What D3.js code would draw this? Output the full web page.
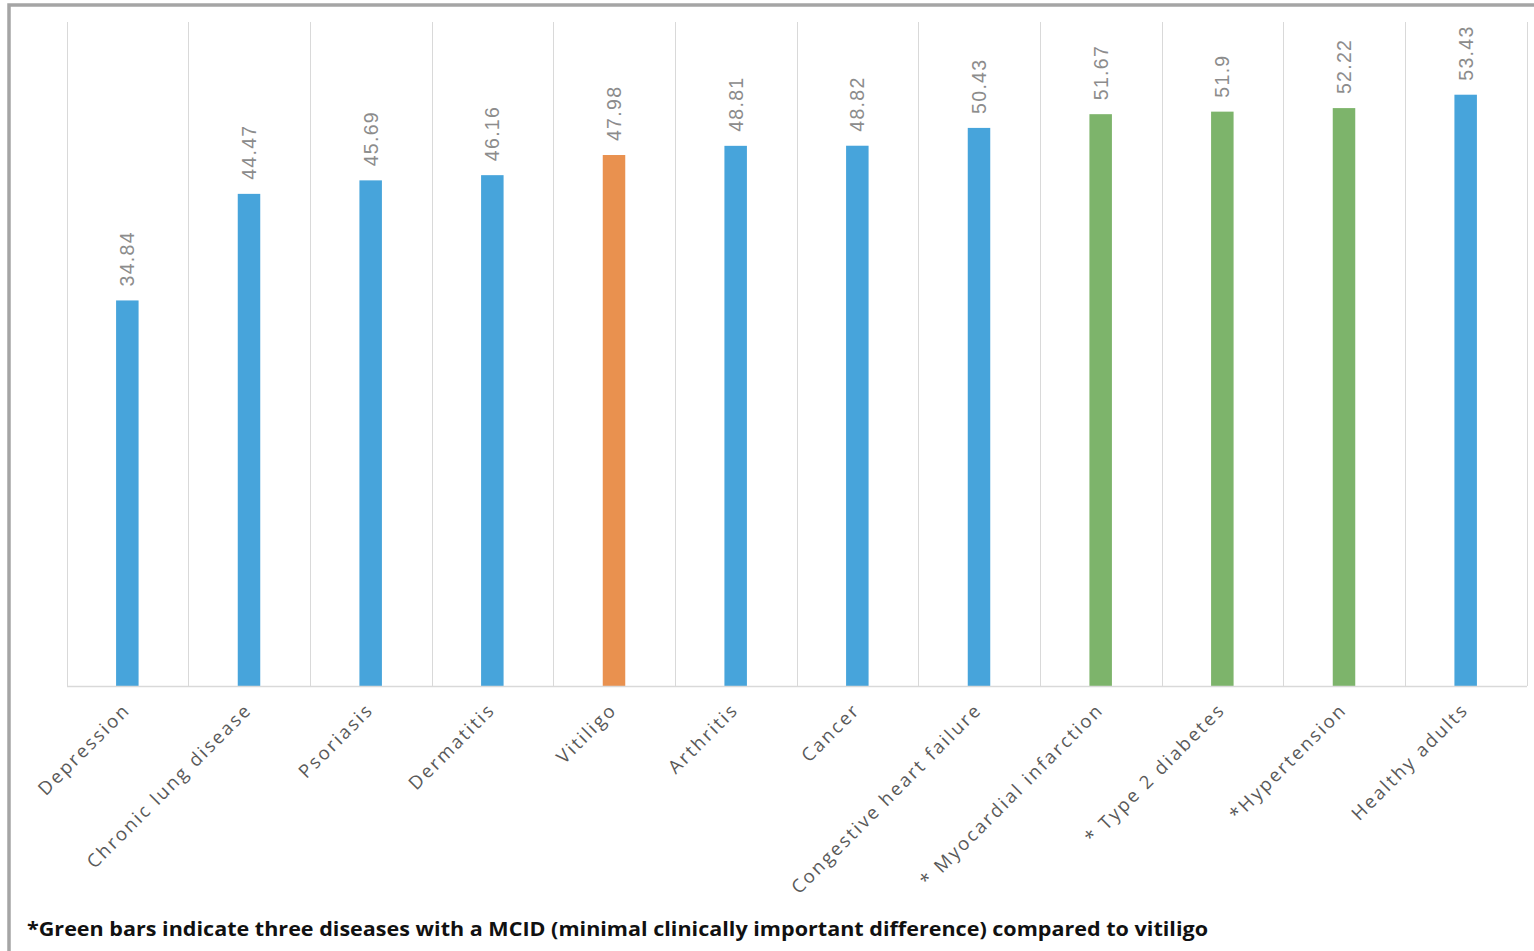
<!DOCTYPE html>
<html>
<head>
<meta charset="utf-8">
<script src="https://cdn.jsdelivr.net/npm/d3@7/dist/d3.min.js"></script>
<style>
  html, body { margin: 0; padding: 0; background: #fff; }
  svg { display: block; }
</style>
</head>
<body>
<svg id="chart" width="1534" height="951"></svg>
<script>
const categories = ["Depression", "Chronic lung disease", "Psoriasis", "Dermatitis", "Vitiligo", "Arthritis", "Cancer", "Congestive heart failure", "* Myocardial infarction", "* Type 2 diabetes", "*Hypertension", "Healthy adults"];
const values = [34.84, 44.47, 45.69, 46.16, 47.98, 48.81, 48.82, 50.43, 51.67, 51.9, 52.22, 53.43];
const valueLabels = ["34.84", "44.47", "45.69", "46.16", "47.98", "48.81", "48.82", "50.43", "51.67", "51.9", "52.22", "53.43"];
const groups = ["other", "other", "other", "other", "vitiligo", "other", "other", "other", "mcid", "mcid", "mcid", "other"];
const footnote = "*Green bars indicate three diseases with a MCID (minimal clinically important difference) compared to vitiligo";

const colors = { other: "#47a4db", vitiligo: "#e9914f", mcid: "#7db46b" };

const svg = d3.select("#chart");
const W = 1534, H = 951;
const plot = { left: 66.5, right: 1526.5, top: 22, bottom: 686 };

// outer frame
svg.append("rect")
  .attr("x", 9).attr("y", 5)
  .attr("width", W + 20).attr("height", H + 20)
  .attr("fill", "none").attr("stroke", "#a5a5a5").attr("stroke-width", 3.5);

const x = d3.scaleBand().domain(categories).range([plot.left, plot.right]).paddingInner(0).paddingOuter(0);
const y = d3.scaleLinear().domain([0, 60]).range([plot.bottom, plot.top]);

// vertical gridlines at category boundaries
const bounds = categories.map(c => x(c)).concat([plot.right]);
svg.append("g").selectAll("line").data(bounds).join("line")
  .attr("x1", d => Math.round(d) + 0.5).attr("x2", d => Math.round(d) + 0.5)
  .attr("y1", plot.top).attr("y2", plot.bottom)
  .attr("stroke", "#d9d9d9").attr("stroke-width", 1);

// bars
const barW = 22.5;
svg.append("g").selectAll("rect").data(categories).join("rect")
  .attr("x", (d) => x(d) + x.bandwidth() / 2 - barW / 2)
  .attr("y", (d, i) => y(values[i]))
  .attr("width", barW)
  .attr("height", (d, i) => y(0) - y(values[i]))
  .attr("fill", (d, i) => colors[groups[i]]);

// baseline axis
const xAxis = d3.axisBottom(x).tickSize(0).tickFormat("");
const ax = svg.append("g").attr("transform", `translate(0,${plot.bottom})`).call(xAxis);
ax.select(".domain").attr("stroke", "#d9d9d9").attr("stroke-width", 1.5);

// category labels
svg.append("g").selectAll("text").data(categories).join("text")
  .attr("transform", d => `translate(${x(d) + x.bandwidth() / 2 + 4},${plot.bottom + 25}) rotate(-45)`)
  .attr("text-anchor", "end")
  .attr("font-family", "'Open Sans', sans-serif")
  .attr("font-size", 18.5)
  .attr("letter-spacing", "2.3px")
  .attr("fill", "#595959")
  .text(d => d);

// value labels
svg.append("g").selectAll("text").data(categories).join("text")
  .attr("transform", (d, i) => `translate(${x(d) + x.bandwidth() / 2 + 7},${y(values[i]) - 14}) rotate(-90)`)
  .attr("text-anchor", "start")
  .attr("font-family", "'Liberation Sans', Arial, sans-serif")
  .attr("font-size", 19.5)
  .attr("letter-spacing", "1.3px")
  .attr("fill", "#8c8c8c")
  .text((d, i) => valueLabels[i]);

// footnote
svg.append("text")
  .attr("x", 27).attr("y", 936)
  .attr("font-family", "'Open Sans', sans-serif")
  .attr("font-weight", 700)
  .attr("font-size", 19)
  .attr("fill", "#111")
  .attr("textLength", 1181)
  .attr("lengthAdjust", "spacingAndGlyphs")
  .text(footnote);
</script>
</body>
</html>
